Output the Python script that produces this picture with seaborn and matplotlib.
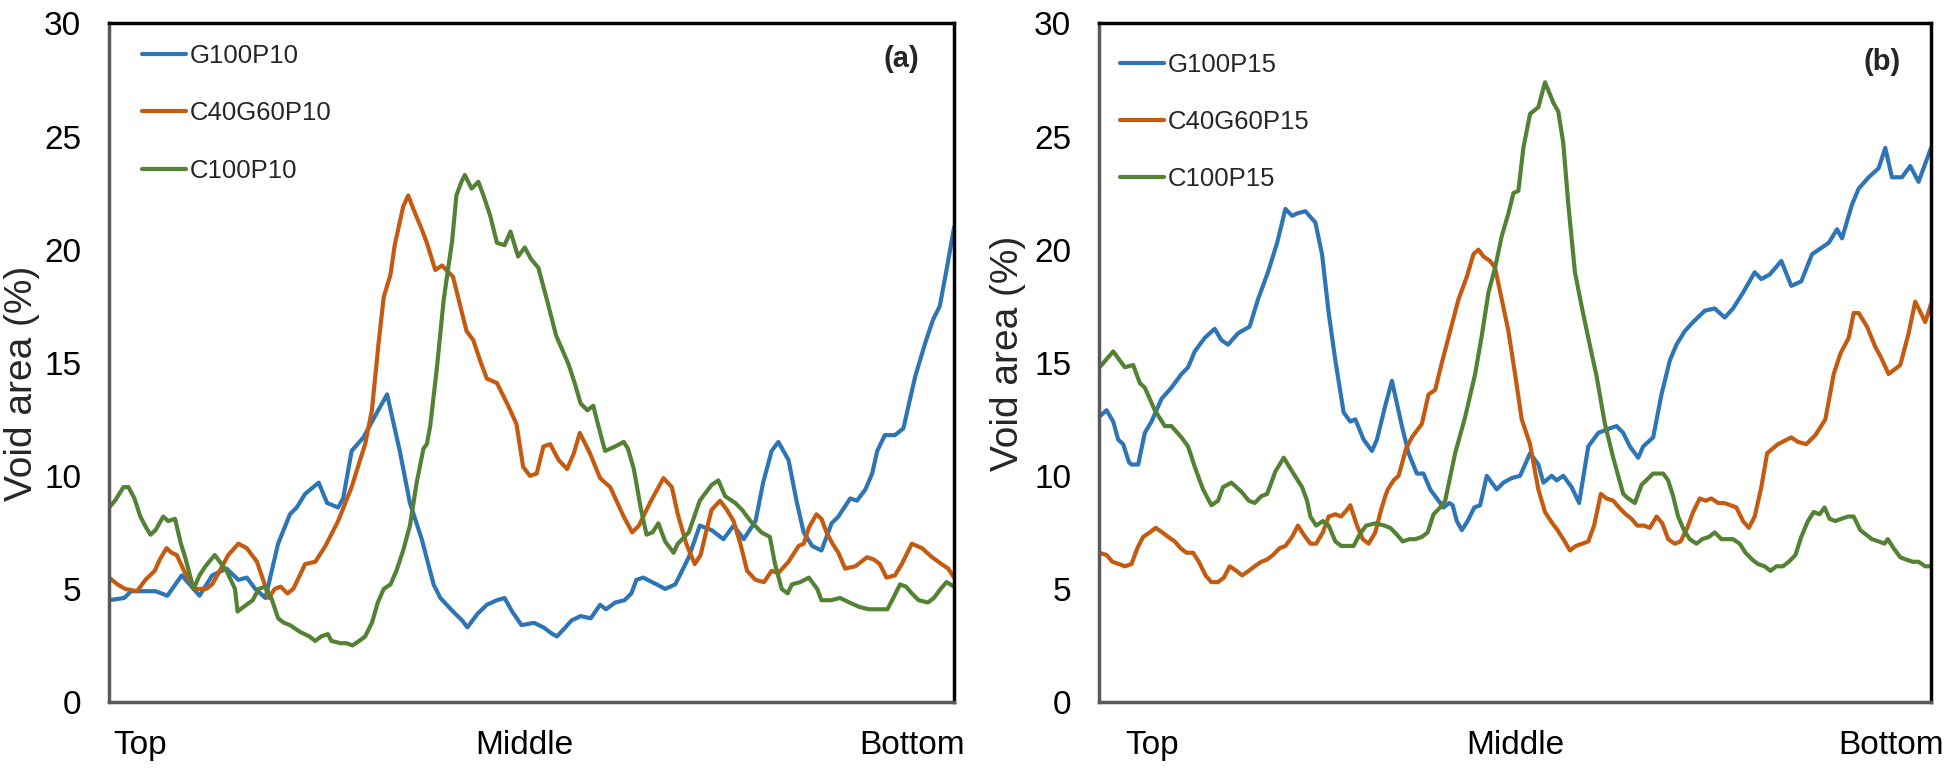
import matplotlib
matplotlib.use("Agg")
import matplotlib.pyplot as plt
import pandas as pd
import seaborn as sns

# (position along the specimen in %, void area in %)
g100p10 = [(0.0, 4.5), (1.8, 4.6), (2.6, 4.9), (5.5, 4.9), (6.9, 4.7), (8.6, 5.6), (10.7, 4.7),
           (12.2, 5.6), (13.9, 5.9), (15.3, 5.4), (16.3, 5.5), (17.3, 5.0), (18.5, 4.6), (20.0, 7.0),
           (21.4, 8.3), (22.2, 8.6), (23.2, 9.2), (24.8, 9.7), (25.8, 8.8), (27.1, 8.6), (27.7, 9.0),
           (28.7, 11.1), (30.1, 11.7), (31.7, 12.8), (32.9, 13.6), (34.4, 11.1), (35.6, 8.8), (37.0, 7.2),
           (38.4, 5.2), (39.2, 4.6), (40.7, 4.0), (41.8, 3.6), (42.4, 3.3), (43.6, 3.9), (44.7, 4.3),
           (45.9, 4.5), (46.8, 4.6), (47.7, 4.0), (48.8, 3.4), (50.3, 3.5), (51.4, 3.3), (52.5, 3.0),
           (53.0, 2.9), (54.0, 3.3), (54.7, 3.6), (55.8, 3.8), (57.0, 3.7), (58.1, 4.3), (58.8, 4.1),
           (59.9, 4.4), (61.0, 4.5), (61.8, 4.8), (62.4, 5.4), (63.2, 5.5), (64.8, 5.2), (65.8, 5.0),
           (67.0, 5.2), (68.6, 6.4), (69.9, 7.8), (71.3, 7.6), (72.7, 7.2), (73.9, 7.8), (75.1, 7.2),
           (76.5, 8.0), (77.4, 9.7), (78.4, 11.1), (79.2, 11.5), (80.4, 10.7), (81.4, 8.8), (82.2, 7.5),
           (83.2, 6.9), (84.3, 6.7), (85.5, 7.9), (86.3, 8.2), (87.7, 9.0), (88.5, 8.9), (89.5, 9.4),
           (90.3, 10.1), (90.9, 11.1), (91.8, 11.8), (93.0, 11.8), (94.0, 12.1), (94.6, 13.1), (95.4, 14.4),
           (96.6, 15.9), (97.5, 16.9), (98.3, 17.5), (99.1, 19.1), (100.0, 21.0)]

c40g60p10 = [(0.0, 5.5), (1.0, 5.2), (1.9, 5.0), (3.3, 4.9), (4.3, 5.4), (5.4, 5.8), (6.0, 6.3),
             (6.8, 6.8), (7.4, 6.6), (8.0, 6.5), (9.0, 5.7), (10.2, 5.0), (11.5, 5.0), (12.2, 5.2),
             (13.1, 5.8), (14.1, 6.5), (15.3, 7.0), (16.3, 6.8), (17.5, 6.2), (18.5, 5.1), (18.9, 4.6),
             (19.6, 5.0), (20.3, 5.1), (21.1, 4.8), (21.8, 5.0), (23.2, 6.1), (24.4, 6.2), (25.6, 6.9),
             (27.1, 8.0), (28.7, 9.5), (29.7, 10.7), (30.3, 11.4), (31.1, 12.9), (31.9, 15.9), (32.5, 17.9),
             (33.3, 18.9), (33.8, 20.2), (34.8, 21.9), (35.4, 22.4), (36.0, 21.8), (37.0, 20.9), (37.6, 20.3),
             (38.6, 19.1), (39.4, 19.3), (40.7, 18.8), (41.3, 17.9), (42.3, 16.4), (43.1, 16.0), (43.9, 15.1),
             (44.7, 14.3), (45.9, 14.1), (47.1, 13.2), (48.2, 12.3), (49.0, 10.4), (49.8, 10.0), (50.6, 10.1),
             (51.4, 11.3), (52.2, 11.4), (53.2, 10.7), (54.2, 10.3), (55.0, 11.0), (55.7, 11.9), (56.9, 11.0),
             (58.1, 9.9), (59.3, 9.5), (60.9, 8.2), (61.9, 7.5), (62.7, 7.8), (64.0, 8.8), (65.6, 9.9),
             (66.6, 9.5), (67.3, 8.3), (68.3, 7.0), (69.3, 6.1), (70.0, 6.5), (70.7, 7.6), (71.3, 8.5),
             (72.3, 8.9), (73.1, 8.5), (73.9, 8.0), (74.7, 7.0), (75.5, 5.8), (76.5, 5.4), (77.5, 5.3),
             (78.4, 5.8), (79.2, 5.7), (80.4, 6.2), (81.6, 6.9), (82.2, 7.0), (82.8, 7.7), (83.7, 8.3),
             (84.3, 8.1), (84.9, 7.5), (85.6, 7.0), (86.3, 6.6), (87.1, 5.9), (88.3, 6.0), (89.0, 6.2),
             (89.7, 6.4), (90.5, 6.3), (91.2, 6.1), (92.0, 5.5), (93.0, 5.6), (93.8, 6.1), (95.0, 7.0),
             (96.2, 6.8), (97.4, 6.4), (98.5, 6.1), (99.3, 5.9), (100.0, 5.5)]

c100p10 = [(0.0, 8.6), (0.7, 8.9), (1.7, 9.5), (2.3, 9.5), (3.0, 9.0), (3.7, 8.2), (4.4, 7.7),
           (4.9, 7.4), (5.5, 7.6), (6.4, 8.2), (7.0, 8.0), (7.8, 8.1), (8.5, 7.0), (9.0, 6.4),
           (10.0, 5.0), (10.7, 5.6), (11.4, 6.0), (12.5, 6.5), (13.3, 6.1), (13.9, 5.8), (14.9, 5.0),
           (15.2, 4.0), (15.9, 4.2), (17.0, 4.5), (17.7, 5.0), (18.5, 5.1), (19.2, 4.6), (20.0, 3.7),
           (20.7, 3.5), (21.4, 3.4), (22.6, 3.1), (23.7, 2.9), (24.4, 2.7), (25.1, 2.9), (25.9, 3.0),
           (26.3, 2.7), (27.4, 2.6), (28.1, 2.6), (28.8, 2.5), (29.6, 2.7), (30.3, 2.9), (31.1, 3.5),
           (31.8, 4.4), (32.5, 5.0), (33.3, 5.2), (34.0, 5.8), (34.8, 6.7), (35.6, 7.8), (36.4, 9.7),
           (37.2, 11.2), (37.6, 11.4), (38.0, 12.2), (38.8, 14.8), (39.6, 17.8), (40.6, 20.4), (41.1, 22.4),
           (41.7, 23.0), (42.1, 23.3), (42.5, 23.0), (42.9, 22.7), (43.7, 23.0), (44.3, 22.4), (45.1, 21.5),
           (45.9, 20.3), (46.8, 20.2), (47.5, 20.8), (48.4, 19.7), (49.2, 20.1), (49.9, 19.6), (50.8, 19.2),
           (51.8, 17.8), (52.9, 16.2), (53.6, 15.6), (54.4, 14.9), (55.1, 14.1), (55.8, 13.2), (56.6, 12.9),
           (57.3, 13.1), (57.7, 12.5), (58.4, 11.5), (58.7, 11.1), (59.9, 11.3), (60.9, 11.5), (61.4, 11.2),
           (62.1, 10.3), (62.9, 8.6), (63.6, 7.4), (64.3, 7.5), (65.0, 7.9), (65.8, 7.1), (66.8, 6.6),
           (67.3, 7.0), (68.6, 7.5), (69.9, 8.9), (70.7, 9.3), (71.3, 9.6), (72.1, 9.8), (72.9, 9.1),
           (74.1, 8.8), (74.9, 8.5), (75.9, 8.0), (77.2, 7.5), (78.2, 7.3), (78.8, 6.1), (79.6, 5.0),
           (80.3, 4.8), (80.8, 5.2), (81.8, 5.3), (82.8, 5.5), (83.8, 5.0), (84.3, 4.5), (85.4, 4.5),
           (86.5, 4.6), (87.6, 4.4), (88.8, 4.2), (89.9, 4.1), (91.0, 4.1), (92.1, 4.1), (92.8, 4.6),
           (93.6, 5.2), (94.3, 5.1), (95.0, 4.8), (95.8, 4.5), (96.9, 4.4), (97.6, 4.6), (98.4, 5.0),
           (99.1, 5.3), (100.0, 5.1)]

g100p15 = [(0.0, 12.6), (0.9, 12.9), (1.7, 12.4), (2.3, 11.6), (2.9, 11.4), (3.6, 10.6), (3.9, 10.5),
           (4.7, 10.5), (5.5, 11.9), (6.3, 12.4), (7.5, 13.4), (8.7, 13.9), (9.9, 14.5), (10.7, 14.8),
           (11.5, 15.5), (12.7, 16.1), (13.9, 16.5), (14.7, 16.0), (15.5, 15.8), (16.7, 16.3), (18.1, 16.6),
           (19.1, 17.8), (20.3, 19.0), (21.4, 20.3), (22.4, 21.8), (23.2, 21.5), (23.8, 21.6), (24.8, 21.7),
           (26.0, 21.2), (26.8, 19.8), (27.6, 17.2), (28.4, 15.1), (29.4, 12.8), (30.2, 12.4), (30.8, 12.5),
           (31.8, 11.6), (32.8, 11.1), (33.4, 11.6), (34.4, 13.1), (35.2, 14.2), (36.4, 12.2), (37.2, 11.0),
           (38.2, 10.1), (39.0, 10.1), (39.8, 9.4), (40.8, 8.9), (41.4, 8.6), (42.1, 8.8), (42.5, 8.7),
           (43.0, 8.0), (43.6, 7.6), (44.3, 8.0), (45.1, 8.6), (45.8, 8.7), (46.6, 10.0), (47.8, 9.4),
           (48.6, 9.7), (49.6, 9.9), (50.6, 10.0), (51.8, 11.0), (52.8, 10.5), (53.4, 9.7), (54.4, 10.0),
           (55.0, 9.8), (55.8, 10.0), (56.8, 9.5), (57.7, 8.8), (58.8, 11.3), (60.0, 11.9), (61.4, 12.1),
           (62.2, 12.2), (63.0, 11.9), (63.8, 11.3), (64.8, 10.8), (65.4, 11.3), (66.6, 11.7), (67.6, 13.6),
           (68.6, 15.1), (69.4, 15.8), (70.4, 16.4), (71.4, 16.8), (72.8, 17.3), (74.0, 17.4), (75.2, 17.0),
           (76.2, 17.4), (77.4, 18.1), (78.8, 19.0), (79.6, 18.7), (80.6, 18.9), (82.0, 19.5), (83.2, 18.4),
           (84.4, 18.6), (85.7, 19.8), (86.5, 20.0), (87.7, 20.3), (88.7, 20.9), (89.3, 20.5), (90.5, 22.0),
           (91.3, 22.7), (92.5, 23.2), (93.7, 23.6), (94.5, 24.5), (95.3, 23.2), (96.5, 23.2), (97.5, 23.7),
           (98.5, 23.0), (100.0, 24.5)]

c40g60p15 = [(0.0, 6.6), (0.9, 6.5), (1.6, 6.2), (2.4, 6.1), (3.1, 6.0), (3.9, 6.1), (4.6, 6.8),
             (5.3, 7.3), (6.1, 7.5), (6.8, 7.7), (7.6, 7.5), (8.3, 7.3), (9.1, 7.1), (9.8, 6.8),
             (10.5, 6.6), (11.3, 6.6), (12.0, 6.2), (12.8, 5.6), (13.5, 5.3), (14.3, 5.3), (15.0, 5.5),
             (15.7, 6.0), (16.5, 5.8), (17.2, 5.6), (18.0, 5.8), (18.7, 6.0), (19.5, 6.2), (20.2, 6.3),
             (20.9, 6.5), (21.7, 6.8), (22.4, 6.9), (23.2, 7.3), (23.9, 7.8), (24.6, 7.4), (25.4, 7.0),
             (26.1, 7.0), (26.9, 7.5), (27.6, 8.2), (28.4, 8.3), (29.1, 8.2), (29.8, 8.5), (30.2, 8.7),
             (31.0, 7.8), (31.7, 7.2), (32.4, 7.0), (33.2, 7.5), (33.9, 8.5), (34.4, 9.1), (34.7, 9.4),
             (35.4, 9.8), (36.0, 10.0), (36.9, 11.2), (37.6, 11.7), (38.8, 12.3), (39.6, 13.6), (40.4, 13.8),
             (41.2, 15.0), (42.2, 16.4), (43.2, 17.8), (44.2, 18.8), (45.0, 19.8), (45.6, 20.0), (46.2, 19.7),
             (47.0, 19.5), (47.6, 19.2), (48.4, 17.8), (49.2, 16.4), (50.0, 14.5), (50.8, 12.5), (51.8, 11.4),
             (52.8, 9.4), (53.6, 8.4), (54.3, 8.0), (55.1, 7.6), (55.8, 7.2), (56.6, 6.7), (57.3, 6.9),
             (58.1, 7.0), (58.8, 7.1), (59.5, 7.8), (60.3, 9.2), (61.0, 9.0), (61.8, 8.9), (62.5, 8.6),
             (63.3, 8.3), (64.0, 8.1), (64.7, 7.8), (65.5, 7.8), (66.2, 7.7), (67.0, 8.2), (67.7, 7.9),
             (68.4, 7.2), (69.2, 7.0), (69.9, 7.1), (70.7, 7.7), (71.4, 8.4), (72.2, 9.0), (72.9, 8.9),
             (73.6, 9.0), (74.4, 8.8), (75.1, 8.8), (75.9, 8.7), (76.6, 8.6), (77.4, 8.0), (78.1, 7.7),
             (78.8, 8.2), (79.6, 9.5), (80.3, 11.0), (81.6, 11.4), (83.2, 11.7), (84.0, 11.5), (85.0, 11.4),
             (86.1, 11.8), (87.3, 12.5), (88.3, 14.5), (89.1, 15.4), (90.1, 16.1), (90.7, 17.2), (91.3, 17.2),
             (92.3, 16.6), (93.3, 15.7), (93.9, 15.3), (94.9, 14.5), (96.3, 14.9), (97.3, 16.3), (98.1, 17.7),
             (99.3, 16.8), (100.0, 17.6)]

c100p15 = [(0.0, 14.8), (0.3, 14.9), (1.7, 15.5), (3.1, 14.8), (4.1, 14.9), (4.9, 14.1), (5.5, 13.9),
           (6.7, 12.9), (7.9, 12.2), (8.7, 12.2), (9.9, 11.7), (10.7, 11.3), (11.5, 10.4), (12.5, 9.4),
           (13.5, 8.7), (14.3, 8.9), (14.9, 9.5), (15.9, 9.7), (17.1, 9.3), (18.0, 8.9), (18.7, 8.8),
           (19.5, 9.1), (20.2, 9.2), (21.2, 10.2), (22.2, 10.8), (23.2, 10.2), (24.4, 9.5), (25.0, 8.9),
           (25.4, 8.2), (26.1, 7.8), (26.9, 8.0), (27.6, 7.8), (28.4, 7.1), (29.1, 6.9), (29.8, 6.9),
           (30.6, 6.9), (31.3, 7.4), (32.1, 7.8), (33.2, 7.9), (34.3, 7.8), (35.0, 7.7), (35.8, 7.4),
           (36.5, 7.1), (37.3, 7.2), (38.0, 7.2), (38.8, 7.3), (39.5, 7.5), (40.2, 8.3), (41.0, 8.6),
           (41.6, 8.9), (42.8, 11.0), (44.0, 12.6), (45.2, 14.5), (46.0, 16.2), (46.8, 18.1), (47.6, 19.2),
           (48.4, 20.6), (49.2, 21.6), (49.8, 22.5), (50.4, 22.6), (51.0, 24.5), (51.8, 26.0), (52.8, 26.3),
           (53.6, 27.4), (54.6, 26.5), (55.2, 26.1), (55.8, 24.7), (56.4, 22.0), (57.2, 19.0), (58.0, 17.5),
           (58.8, 16.1), (59.8, 14.4), (60.8, 12.3), (61.8, 10.8), (63.0, 9.2), (63.6, 9.0), (64.4, 8.8),
           (65.2, 9.6), (66.6, 10.1), (67.8, 10.1), (68.4, 9.8), (69.0, 9.1), (69.6, 8.2), (70.3, 7.6),
           (71.0, 7.2), (71.8, 7.0), (72.5, 7.2), (73.3, 7.3), (74.0, 7.5), (74.8, 7.2), (75.5, 7.2),
           (76.2, 7.2), (77.0, 7.0), (77.7, 6.6), (78.5, 6.3), (79.2, 6.1), (80.0, 6.0), (80.7, 5.8),
           (81.4, 6.0), (82.2, 6.0), (82.9, 6.2), (83.7, 6.5), (84.4, 7.3), (85.2, 8.0), (85.9, 8.4),
           (86.6, 8.3), (87.2, 8.6), (87.8, 8.1), (88.5, 8.0), (89.2, 8.1), (90.0, 8.2), (90.7, 8.2),
           (91.5, 7.6), (92.2, 7.4), (92.9, 7.2), (93.7, 7.1), (94.4, 7.0), (94.8, 7.2), (95.5, 6.8),
           (96.3, 6.4), (97.0, 6.3), (97.8, 6.2), (98.5, 6.2), (99.3, 6.0), (100.0, 6.0)]

names_a = ["G100P10", "C40G60P10", "C100P10"]
names_b = ["G100P15", "C40G60P15", "C100P15"]
colors = ["#2E75B6", "#C55A11", "#548235"]
xtick_labels = ["Top", "Middle", "Bottom"]


def to_frame(series, names):
    rows = []
    for name, pts in zip(names, series):
        for pos, val in pts:
            rows.append({"position": pos, "void": val, "mix": name})
    return pd.DataFrame(rows)


sns.set_theme(style="white")
plt.rcParams["font.family"] = ["Liberation Sans", "DejaVu Sans"]

fig = plt.figure(figsize=(19.48, 7.70), dpi=100)
ax_a = fig.add_axes([0.0560, 0.0883, 0.4338, 0.8812])
ax_b = fig.add_axes([0.5642, 0.0883, 0.4271, 0.8812])

panels = [
    (ax_a, to_frame([g100p10, c40g60p10, c100p10], names_a), names_a, "(a)",
     [3.7, 49.1, 95.0], (0.039, 0.97), (-0.082, 0.47), (0.937, 0.948)),
    (ax_b, to_frame([g100p15, c40g60p15, c100p15], names_b), names_b, "(b)",
     [6.4, 50.0, 95.2], (0.025, 0.957), (-0.088, 0.514), (0.941, 0.943)),
]

for ax, df, names, tag, xt, leg_xy, ylab_xy, tag_xy in panels:
    sns.lineplot(data=df, x="position", y="void", hue="mix", hue_order=names,
                 palette=colors, estimator=None, lw=3.0, ax=ax)

    ax.set_xlim(0, 100)
    ax.set_ylim(0, 30)
    ax.set_yticks(range(0, 31, 5))
    ax.set_xticks(xt)
    ax.set_xticklabels(xtick_labels)
    ax.tick_params(axis="both", length=0, labelsize=24, colors="black")
    ax.tick_params(axis="y", pad=20)
    ax.tick_params(axis="x", pad=20)

    ax.set_xlabel("")
    ax.set_ylabel("Void area (%)", fontsize=28)
    ax.yaxis.set_label_coords(*ylab_xy)

    for side in ["top", "right"]:
        ax.spines[side].set_color("black")
        ax.spines[side].set_linewidth(2.5)
    for side in ["left", "bottom"]:
        ax.spines[side].set_color("#595959")
        ax.spines[side].set_linewidth(2.5)

    handles = ax.get_legend().legend_handles
    ax.legend(handles, names, loc="upper left", bbox_to_anchor=leg_xy, frameon=False,
              fontsize=18.5, handlelength=1.7, handletextpad=0.16, labelspacing=1.3,
              borderpad=0, borderaxespad=0)

    ax.text(tag_xy[0], tag_xy[1], tag, transform=ax.transAxes, ha="center", va="center",
            fontsize=21, fontweight="bold")

fig.savefig("out.png", dpi=100)
